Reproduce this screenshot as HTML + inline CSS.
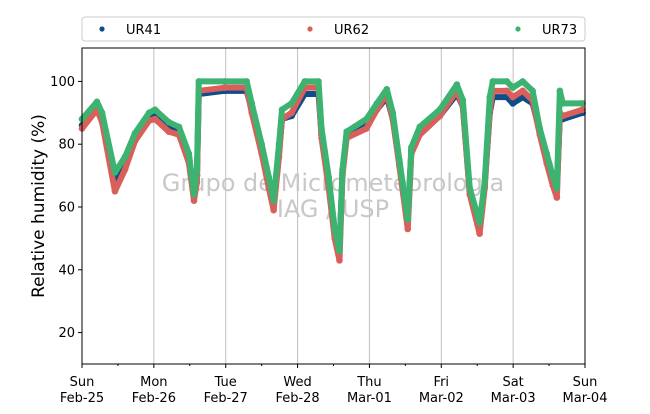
<!DOCTYPE html>
<html><head><meta charset="utf-8"><style>
body{margin:0;background:#fff;font-family:"Liberation Sans","DejaVu Sans",sans-serif}
</style></head><body>
<svg id="chart" width="650" height="409" xmlns="http://www.w3.org/2000/svg" font-family="DejaVu Sans, Liberation Sans, sans-serif">
<g id="grid"></g>
<g id="wm">
<text x="333" y="191" text-anchor="middle" font-size="24" fill="#c8c8c8">Grupo de Micrometeorologia</text>
<text x="333" y="217" text-anchor="middle" font-size="24" fill="#c8c8c8">IAG / USP</text>
</g>
<g id="series"></g>
<rect x="82" y="48" width="503" height="316" fill="none" stroke="#000" stroke-width="1"/>
<g id="axes"></g>
<text transform="translate(44,206) rotate(-90)" text-anchor="middle" font-size="17">Relative humidity (%)</text>
<g>
<rect x="82" y="17" width="503" height="24" rx="3" fill="#fff" stroke="#ccc"/>
<g><circle cx="102" cy="29" r="2.6" fill="#0f4c8a"/><text x="126" y="34" font-size="13">UR41</text></g>
<g><circle cx="310" cy="29" r="2.6" fill="#d9605a"/><text x="334" y="34" font-size="13">UR62</text></g>
<g><circle cx="518" cy="29" r="2.6" fill="#3cb371"/><text x="542" y="34" font-size="13">UR73</text></g>
</g>
</svg>
<script>
const hours=[0,5,6.7,11,14.4,17.7,22.4,24.4,29,32.4,35.7,37.4,38.4,39,47.7,55,56.7,60,62.4,64,65.8,66.8,70,74.4,79,80,82.4,84.4,86,87,88.4,95,98.5,101.8,103.8,106,108.8,110,112.8,119.5,125.2,127.2,129.5,132.8,134.5,136.2,137.2,141.9,143.9,147.2,150.5,152.9,155.2,157.2,158.6,159.6,160.6,167.2];
const ur73=[88,93.5,90,71,76,83.5,90,91,87,85.5,77,64,72,100,100,100,93,80,69.5,62,80,91,93,100,100,85,69.5,53,46,72,84,88,93,97.5,90,75,56,79,85.5,91,99,94,66,55,68,95,100,100,98,100,97,85,77,70,66,97,93,93];
const ur62=[85,91,87,65,72,81,87.5,88,84,83,74,62,68,97,98,98,90,77,66,59,76,88,90,98,98,82,66,50,43,70,82,85,91,96,88,73,53,77,83,89,97,92,64,51.5,66,91,97,97,95,97,94,83,74,67,63,90,89,91];
const ur41=[86,92,88,68,73,82,88,89,85,84,76,64,70,96,97,97,91,78,68,61,78,88,89,96,96,83,68,51,47,71,83,86,91,95,88,74,55,78,84,89,96,92,65,53,67,90,95,95,93,95,93,84,76,69,65,89,88,90];
const dayLabels=["Sun","Mon","Tue","Wed","Thu","Fri","Sat","Sun"];
const dateLabels=["Feb-25","Feb-26","Feb-27","Feb-28","Mar-01","Mar-02","Mar-03","Mar-04"];
const yTicks=[20,40,60,80,100];
const NS="http://www.w3.org/2000/svg";
const X0=82,X1=585,Y0=364,Y1=50,HMAX=168,VMIN=10,VMAX=110;
const xs=h=>X0+(X1-X0)*h/HMAX;
const ys=v=>Y0-(Y0-Y1)*(v-VMIN)/(VMAX-VMIN);
function mk(t,a,p){const e=document.createElementNS(NS,t);for(const k in a)e.setAttribute(k,a[k]);p.appendChild(e);return e;}
const grid=document.getElementById('grid'),axes=document.getElementById('axes'),ser=document.getElementById('series');
for(let d=0;d<dayLabels.length;d++){
  const x=xs(d*24);
  if(d>0&&d<7){const g=mk('line',{x1:x,x2:x,y1:48,y2:Y0,stroke:'#c0c0c0','stroke-width':1},grid);
  
  }
  const t=mk('line',{x1:x,x2:x,y1:Y0,y2:Y0+4,stroke:'#000'},axes);
  
  
  const l1=mk('text',{x:x,y:386,'text-anchor':'middle','font-size':13},axes);l1.textContent=dayLabels[d];
  
  
  const l2=mk('text',{x:x,y:402,'text-anchor':'middle','font-size':13},axes);l2.textContent=dateLabels[d];
  
  
  if(d<7){const m=mk('line',{x1:xs(d*24+12),x2:xs(d*24+12),y1:Y0,y2:Y0+2,stroke:'#000'},axes);
  
  }
}
yTicks.forEach(v=>{const y=ys(v);
  const t=mk('line',{x1:X0-4,x2:X0,y1:y,y2:y,stroke:'#000'},axes);
  
  
  const l=mk('text',{x:X0-7,y:y+4.5,'text-anchor':'end','font-size':13},axes);l.textContent=v;
  
  
});
[[ur41,'#0f4c8a','ur41'],[ur62,'#d9605a','ur62'],[ur73,'#3cb371','ur73']].forEach(([vals,c,n])=>{
  const g=mk('g',{},ser);
  
  
  const pl=mk('polyline',{points:vals.map((v,i)=>xs(hours[i])+','+ys(v)).join(' '),fill:'none',stroke:c,'stroke-width':6,'stroke-linejoin':'round','stroke-linecap':'round'},g);
  
  
  vals.forEach((v,i)=>{const p=mk('circle',{cx:xs(hours[i]),cy:ys(v),r:3.3,fill:c},g);
    
    });
});
</script>
</body></html>
